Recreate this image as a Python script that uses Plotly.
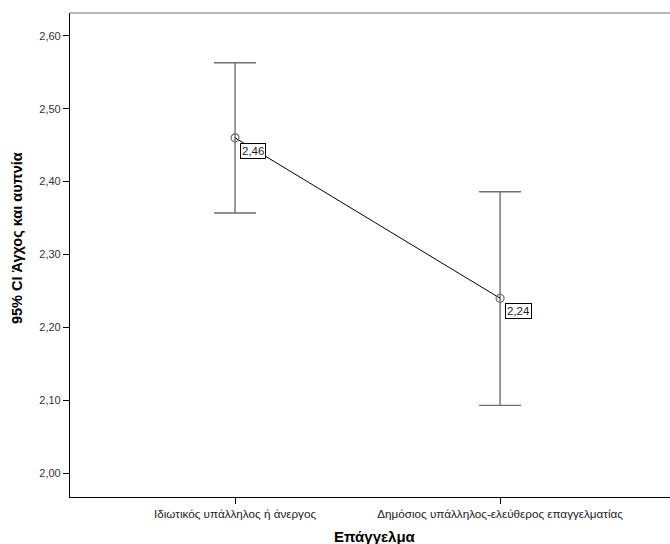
import plotly.graph_objects as go

# Group means and 95% confidence limits
categories = ["Ιδιωτικός υπάλληλος ή άνεργος", "Δημόσιος υπάλληλος-ελεύθερος επαγγελματίας"]
means = [2.46, 2.24]
ci_lower = [2.357, 2.093]
ci_upper = [2.563, 2.386]
y_ticks = [2.00, 2.10, 2.20, 2.30, 2.40, 2.50, 2.60]

err_plus = [u - m for u, m in zip(ci_upper, means)]
err_minus = [m - l for m, l in zip(means, ci_lower)]

FONT = "Liberation Sans, Arial, sans-serif"

fig = go.Figure()
fig.add_trace(go.Scatter(
    x=[0, 1],
    y=means,
    mode="lines+markers",
    line=dict(color="#000000", width=1),
    marker=dict(symbol="circle-open", size=8, color="#6e6e6e", line=dict(width=1.2)),
    error_y=dict(type="data", symmetric=False, array=err_plus, arrayminus=err_minus,
                 color="#6e6e6e", thickness=1.4, width=21),
    hoverinfo="skip",
    showlegend=False,
))

for i, m in enumerate(means):
    fig.add_annotation(
        x=i, y=m, xref="x", yref="y",
        text=f"{m:.2f}".replace(".", ","),
        showarrow=False, xanchor="left", yanchor="top",
        xshift=5, yshift=-5,
        font=dict(family=FONT, size=11.5, color="#222222"),
        bgcolor="#ffffff", bordercolor="#000000", borderwidth=1, borderpad=1,
    )

# axis titles (paper coordinates relative to the plot area)
fig.add_annotation(
    x=-0.0883, y=0.535, xref="paper", yref="paper", text="<b>95% CI Άγχος και αυπνία</b>",
    showarrow=False, textangle=-90, xanchor="center", yanchor="middle",
    font=dict(family=FONT, size=14.5, color="#000000"),
)
fig.add_annotation(
    x=0.508, y=-0.0826, xref="paper", yref="paper", text="<b>Επάγγελμα</b>",
    showarrow=False, xanchor="center", yanchor="middle",
    font=dict(family=FONT, size=15, color="#000000"),
)

fig.update_layout(
    width=670, height=544,
    margin=dict(l=70, r=0, t=13, b=47),
    paper_bgcolor="#ffffff", plot_bgcolor="#ffffff",
    separators=",.",
    font=dict(family=FONT, size=11, color="#333333"),
    xaxis=dict(
        range=[-0.6226, 1.641],
        tickvals=[0, 1], ticktext=categories,
        showgrid=False, zeroline=False,
        showline=True, linecolor="#000000", linewidth=1.2, mirror=False,
        ticks="outside", ticklen=6, tickcolor="#000000",
        tickfont=dict(size=11.7, color="#222222"),
    ),
    yaxis=dict(
        range=[1.9674, 2.6312],
        tickvals=y_ticks, tickformat=".2f",
        showgrid=False, zeroline=False,
        showline=True, linecolor="#000000", linewidth=1.2, mirror=False,
        ticks="outside", ticklen=6, tickcolor="#000000",
        tickfont=dict(size=11, color="#333333"),
    ),
)

# top frame line of the plot area
fig.add_shape(type="line", xref="paper", yref="paper", x0=0, x1=1, y0=1, y1=1,
              line=dict(color="#6e6e6e", width=1.2))

fig.write_html("out.html")
